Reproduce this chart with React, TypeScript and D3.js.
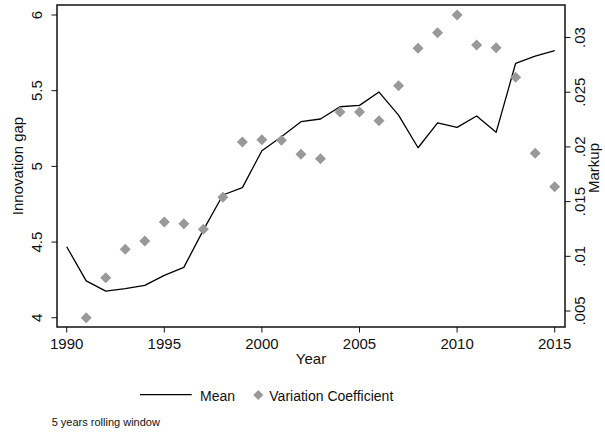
import React from "react";
import * as d3 from "d3";

// Innovation gap (mean) by year, left axis
const years = d3.range(1990, 2016);
const meanGap = [
  4.469, 4.244, 4.176, 4.192, 4.214, 4.28, 4.333, 4.579, 4.811, 4.86,
  5.103, 5.196, 5.295, 5.313, 5.394, 5.403, 5.491, 5.339, 5.123, 5.288,
  5.258, 5.333, 5.225, 5.681, 5.729, 5.764,
];

// Markup variation coefficient by year, right axis
const cvYears = d3.range(1991, 2016);
const cvMarkup = [
  0.00439, 0.00804, 0.01064, 0.0114, 0.01314, 0.01298, 0.01247, 0.01539,
  0.02045, 0.02066, 0.0206, 0.01932, 0.01892, 0.02319, 0.02319, 0.0224,
  0.02559, 0.02901, 0.03044, 0.03206, 0.02931, 0.02907, 0.02636, 0.01941,
  0.01636,
];

const xTicks = [1990, 1995, 2000, 2005, 2010, 2015];
const leftTicks = [4, 4.5, 5, 5.5, 6];
const leftTickLabels = ["4", "4.5", "5", "5.5", "6"];
const rightTicks = [0.005, 0.01, 0.015, 0.02, 0.025, 0.03];
const rightTickLabels = [".005", ".01", ".015", ".02", ".025", ".03"];

const W = 605;
const H = 434;
const plot = { left: 57, right: 565, top: 5, bottom: 327 };
const FONT = "'Liberation Sans', Arial, Helvetica, sans-serif";
const GRAY = "#999999";

export default function App() {
  const x = d3.scaleLinear().domain([1990, 2015]).range([66.7, 554.7]);
  const yL = d3.scaleLinear().domain([3.939, 6.066]).range([plot.bottom, plot.top]);
  const yR = d3.scaleLinear().domain([0.00354, 0.03297]).range([plot.bottom, plot.top]);

  const line = d3
    .line<number>()
    .x((_, i) => x(years[i]))
    .y((d) => yL(d));

  const diamond = (cx: number, cy: number, r: number) =>
    `M${cx},${cy - r}L${cx + r},${cy}L${cx},${cy + r}L${cx - r},${cy}Z`;

  const midY = (plot.top + plot.bottom) / 2;

  return (
    <svg
      width={W}
      height={H}
      style={{ position: "absolute", left: 0, top: 0, background: "#fff" }}
      fontFamily={FONT}
    >
      <rect x={0} y={0} width={W} height={H} fill="#fff" />

      {/* series */}
      <path d={line(meanGap) || ""} fill="none" stroke="#000" strokeWidth={1.3} strokeLinejoin="round" />
      {cvMarkup.map((v, i) => (
        <path key={i} d={diamond(x(cvYears[i]), yR(v), 5.5)} fill={GRAY} />
      ))}

      {/* frame */}
      <rect
        x={plot.left}
        y={plot.top}
        width={plot.right - plot.left}
        height={plot.bottom - plot.top}
        fill="none"
        stroke="#111"
        strokeWidth={1.5}
      />

      {/* x axis */}
      {xTicks.map((t) => (
        <g key={t}>
          <line x1={x(t)} x2={x(t)} y1={plot.bottom} y2={plot.bottom + 5.5} stroke="#111" strokeWidth={1} />
          <text x={x(t)} y={349} textAnchor="middle" fontSize={15} fill="#111">
            {t}
          </text>
        </g>
      ))}
      <text x={(plot.left + plot.right) / 2} y={364} textAnchor="middle" fontSize={15} fill="#111">
        Year
      </text>

      {/* left axis */}
      {leftTicks.map((t, i) => (
        <g key={t}>
          <line x1={plot.left} x2={plot.left - 5.5} y1={yL(t)} y2={yL(t)} stroke="#111" strokeWidth={1} />
          <text
            transform={`translate(42,${yL(t)}) rotate(-90)`}
            textAnchor="middle"
            fontSize={15}
            fill="#111"
          >
            {leftTickLabels[i]}
          </text>
        </g>
      ))}
      <text
        transform={`translate(22.5,${midY}) rotate(-90)`}
        textAnchor="middle"
        fontSize={15}
        fill="#111"
      >
        Innovation gap
      </text>

      {/* right axis */}
      {rightTicks.map((t, i) => (
        <g key={t}>
          <line x1={plot.right} x2={plot.right + 5.5} y1={yR(t)} y2={yR(t)} stroke="#111" strokeWidth={1} />
          <text
            transform={`translate(584.5,${yR(t)}) rotate(-90)`}
            textAnchor="middle"
            fontSize={15}
            fill="#111"
          >
            {rightTickLabels[i]}
          </text>
        </g>
      ))}
      <text
        transform={`translate(599,${midY + 2}) rotate(-90)`}
        textAnchor="middle"
        fontSize={15}
        fill="#111"
      >
        Markup
      </text>

      {/* legend */}
      <line x1={140} x2={191.7} y1={394.7} y2={394.7} stroke="#000" strokeWidth={1.3} />
      <text x={200} y={400.5} fontSize={14} fill="#111">
        Mean
      </text>
      <path d={diamond(258.3, 395, 5)} fill={GRAY} />
      <text x={269.3} y={400.5} fontSize={14} fill="#111">
        Variation Coefficient
      </text>

      {/* note */}
      <text x={51.7} y={426} fontSize={11} fill="#111">
        5 years rolling window
      </text>
    </svg>
  );
}
